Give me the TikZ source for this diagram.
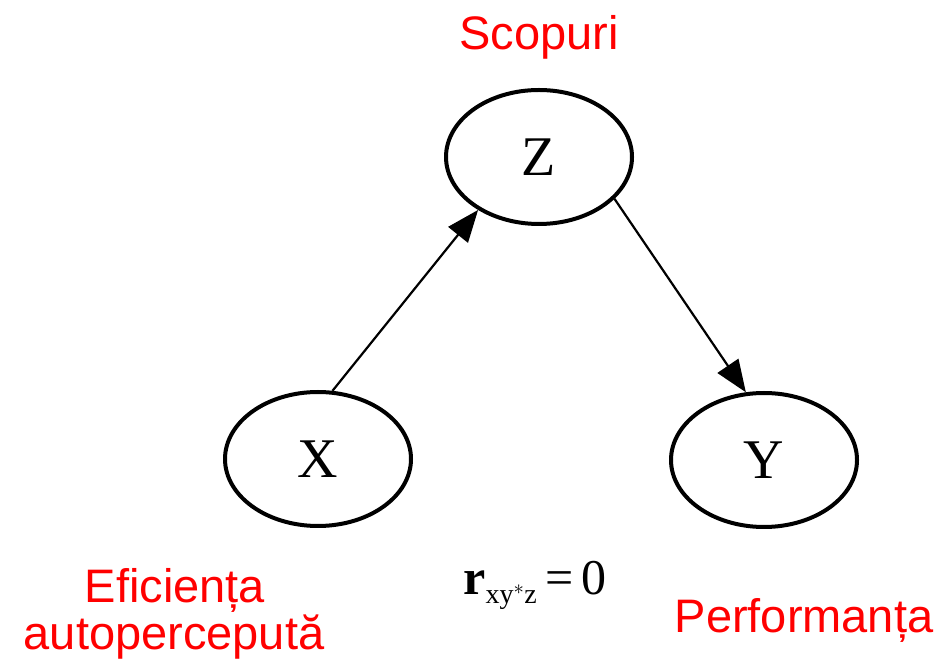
\documentclass[tikz,border=0pt]{standalone}
\usepackage{fontspec}
\setmainfont{Liberation Serif}
\newfontfamily\redsans{Liberation Sans}
\usetikzlibrary{arrows.meta,shapes.geometric}
\definecolor{labred}{RGB}{255,0,0}
\tikzset{
  var/.style={ellipse,draw,line width=4pt,minimum width=186pt,minimum height=134pt,inner sep=0pt,
    font=\fontsize{56}{56}\selectfont},
  arr/.style={line width=2.2pt,-{Triangle[length=32pt,width=25pt]}},
  lab/.style={text=labred,font=\redsans\fontsize{47}{50}\selectfont,anchor=base,inner sep=0pt}
}
\begin{document}
\begin{tikzpicture}[x=1pt,y=1pt]
\useasboundingbox (0,0) rectangle (942,669);
\node[var] (Z) at (539,512) {Z};
\node[var] (X) at (318,210) {X};
\node[var] (Y) at (764,209) {Y};
\draw[arr] (X.78) -- (Z.221);
\draw[arr] (Z.331) -- (Y.105);
\node[lab] (scop) at (539,619) {Scopuri};
\node[lab] (ef1) at (175,66) {Eficiența};
\node[lab] (ef2) at (174,19) {autopercepută};
\node[lab] (perf) at (804,36) {Performanța};
\node[anchor=base,inner sep=0pt,font=\fontsize{50}{50}\selectfont] (r) at (535,74)
  {\textbf{r}\raisebox{-9pt}{\fontsize{28}{28}\selectfont xy$^{*}$z}\,=\,0};
\end{tikzpicture}
\end{document}
